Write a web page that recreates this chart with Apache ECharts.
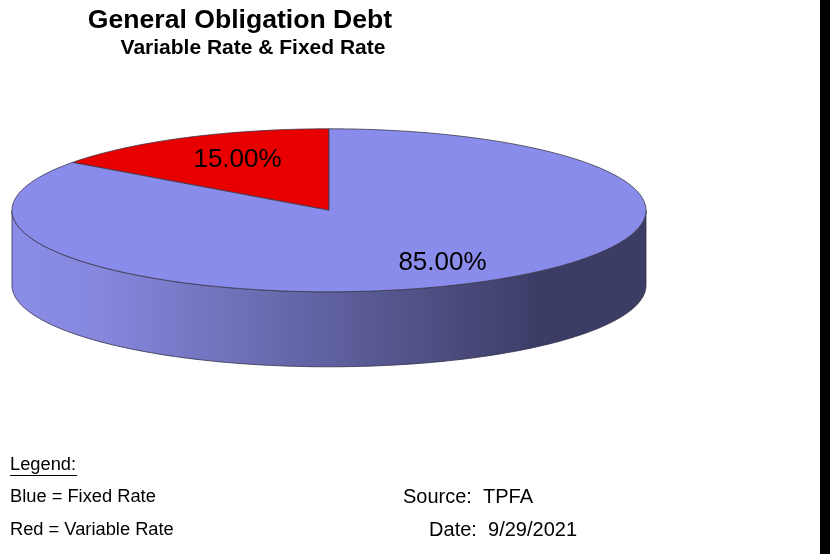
<!DOCTYPE html>
<html><head><meta charset="utf-8">
<script src="https://cdn.jsdelivr.net/npm/echarts@6/dist/echarts.min.js"></script>
<style>html,body{margin:0;padding:0;background:#fff}#c{width:830px;height:554px}</style>
</head><body><div id="c"></div>
<script>
// ---- data ----
const categories = ['Variable Rate', 'Fixed Rate'];
const shares = [15.00, 85.00];
const sliceLabels = ['15.00%', '85.00%'];
const titleText = 'General Obligation Debt';
const subtitleText = 'Variable Rate & Fixed Rate';
const legendLines = ['Blue = Fixed Rate', 'Red = Variable Rate'];
const sourceText = 'Source:  TPFA';
const dateText = 'Date:  9/29/2021';

// ---- style / geometry ----
const FONT = '"Liberation Sans", Arial, Helvetica, sans-serif';
const G = { cx: 329, cy: 210.3, rx: 317, ry: 81.5, depth: 75, start: 90 };
const topColors = ['#e80000', '#8a8cec'];
const sideColors = [
  '#b00000',
  { type: 'linear', x: 0, y: 0, x2: 1, y2: 0, colorStops: [
    { offset: 0, color: '#8b8ce8' }, { offset: 0.14, color: '#8687dd' },
    { offset: 0.83, color: '#3c3d66' }, { offset: 1, color: '#3c3d64' } ] }
];
const total = shares.reduce((a, b) => a + b, 0);

function pt(t, dy) {
  const r = t * Math.PI / 180;
  return [G.cx + G.rx * Math.cos(r), G.cy - G.ry * Math.sin(r) + (dy || 0)];
}
function arc(a1, a2, dy) {
  const pts = [];
  const n = Math.max(2, Math.ceil(Math.abs(a2 - a1)));
  for (let i = 0; i <= n; i++) pts.push(pt(a1 + (a2 - a1) * i / n, dy));
  return pts;
}

const chart = echarts.init(document.getElementById('c'));
chart.setOption({
  backgroundColor: '#ffffff',
  animation: false,
  series: [{
    type: 'custom',
    coordinateSystem: 'none',
    data: shares.map((v, i) => ({ name: categories[i], value: [v] })),
    renderItem: function (params, api) {
      const i = params.dataIndex;
      const v = api.value(0);
      let before = 0;
      for (let k = 0; k < i; k++) before += shares[k];
      const a1 = G.start + before / total * 360;
      const a2 = a1 + v / total * 360;
      const children = [];
      [[180, 360], [540, 720]].forEach(function (f) {
        const s = Math.max(a1, f[0]), e = Math.min(a2, f[1]);
        if (e > s) {
          const pts = arc(s, e, 0).concat(arc(e, s, G.depth));
          children.push({ type: 'polygon', shape: { points: pts },
            style: { fill: sideColors[i], stroke: '#30304a', lineWidth: 0.8 } });
        }
      });
      children.push({ type: 'polygon',
        shape: { points: [[G.cx, G.cy]].concat(arc(a1, a2, 0)) },
        style: { fill: topColors[i], stroke: '#3a3a4a', lineWidth: 0.8 } });
      const m = (a1 + a2) / 2 * Math.PI / 180;
      children.push({ type: 'text', z2: 10, style: {
        text: sliceLabels[i],
        x: G.cx + 0.712 * G.rx * Math.cos(m) + 11,
        y: G.cy - 0.712 * G.ry * Math.sin(m) + 1,
        align: 'center', verticalAlign: 'middle',
        font: '26px ' + FONT, fill: '#000' } });
      return { type: 'group', children: children };
    }
  }],
  graphic: [
    { type: 'text', style: { text: titleText, x: 240, y: 21, align: 'center', verticalAlign: 'middle',
      font: 'bold 26.6px ' + FONT, fill: '#000' } },
    { type: 'text', style: { text: subtitleText, x: 253, y: 48, align: 'center', verticalAlign: 'middle',
      font: 'bold 21px ' + FONT, fill: '#000' } },
    { type: 'text', style: { text: 'Legend:', x: 10, y: 465, align: 'left', verticalAlign: 'middle',
      font: '18.3px ' + FONT, fill: '#000' } },
    { type: 'line', shape: { x1: 10, y1: 475.5, x2: 77, y2: 475.5 }, style: { stroke: '#000', lineWidth: 1 } },
    { type: 'text', style: { text: legendLines[0], x: 10, y: 497, align: 'left', verticalAlign: 'middle',
      font: '18.3px ' + FONT, fill: '#000' } },
    { type: 'text', style: { text: legendLines[1], x: 10, y: 530, align: 'left', verticalAlign: 'middle',
      font: '18.3px ' + FONT, fill: '#000' } },
    { type: 'text', style: { text: sourceText, x: 403, y: 497, align: 'left', verticalAlign: 'middle',
      font: '20px ' + FONT, fill: '#000' } },
    { type: 'text', style: { text: dateText, x: 577, y: 530, align: 'right', verticalAlign: 'middle',
      font: '20px ' + FONT, fill: '#000' } },
    { type: 'rect', shape: { x: 820, y: 0, width: 10, height: 554 }, style: { fill: '#000' } }
  ]
});
</script></body></html>
